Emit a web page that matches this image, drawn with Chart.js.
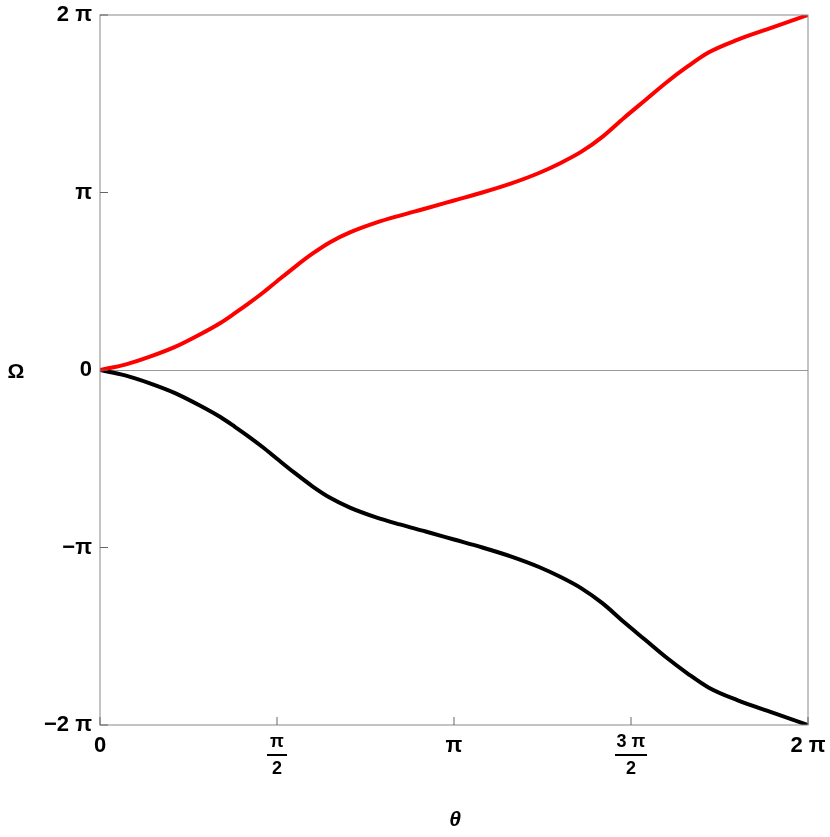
<!DOCTYPE html>
<html><head><meta charset="utf-8">
<script src="https://cdn.jsdelivr.net/npm/chart.js@4/dist/chart.umd.min.js"></script>
<style>body{margin:0;background:#fff}</style></head>
<body><canvas id="c" width="830" height="837"></canvas>
<script>
// theta and Omega in units of pi
const theta = [0,0.071,0.141,0.212,0.282,0.34,0.381,0.42,0.46,0.5,0.55,0.6,0.65,0.706,0.78,0.847,0.92,1.0,1.08,1.16,1.24,1.3,1.36,1.42,1.48,1.54,1.6,1.66,1.72,1.8,1.9,2.0];
const redOmega = [0,0.03,0.075,0.13,0.2,0.265,0.32,0.375,0.435,0.5,0.58,0.655,0.72,0.775,0.83,0.87,0.91,0.955,1.0,1.05,1.11,1.165,1.23,1.315,1.42,1.52,1.62,1.71,1.79,1.86,1.93,2.0];
const blackOmega = redOmega.map(v=>-v);
const xTicks = [0,0.5,1,1.5,2];
const xTickLabels = [["0"],["π","2"],["π"],["3 π","2"],["2 π"]];
const yTicks = [-2,-1,0,1,2];
const yTickLabels = ["−2 π","−π","0","π","2 π"];

const pts = a => theta.map((t,i)=>({x:t,y:a[i]}));
const deco = {
  id:'deco',
  afterDraw(ch){
    const c=ch.ctx, xs=ch.scales.x, ys=ch.scales.y, a=ch.chartArea;
    c.save();
    c.strokeStyle='#888'; c.lineWidth=1;
    c.strokeRect(a.left,a.top,a.right-a.left,a.bottom-a.top);
    c.strokeStyle='#666';
    xTicks.forEach(v=>{const p=xs.getPixelForValue(v);c.beginPath();c.moveTo(p,a.bottom);c.lineTo(p,a.bottom-8);c.stroke();});
    yTicks.forEach(v=>{const p=ys.getPixelForValue(v);c.beginPath();c.moveTo(a.left,p);c.lineTo(a.left+8,p);c.stroke();});
    c.fillStyle='#000'; c.textAlign='center'; c.textBaseline='middle';
    xTicks.forEach((v,i)=>{
      const p=xs.getPixelForValue(v), L=xTickLabels[i];
      if(L.length===1){c.font='bold 22px "Liberation Sans"';c.fillText(L[0],p,a.bottom+21);}
      else{c.font='bold 18px "Liberation Sans"';c.fillText(L[0],p,a.bottom+17);
        c.fillRect(p-(L[0].length>1?16:10),a.bottom+29,L[0].length>1?32:20,2);
        c.fillText(L[1],p,a.bottom+44);}
    });
    yTicks.forEach((v,i)=>{const p=ys.getPixelForValue(v);c.textAlign='right';c.font='bold 22px "Liberation Sans"';c.fillText(yTickLabels[i],a.left-8,p);});
    c.textAlign='center';
    c.font='bold 21px "Liberation Sans"'; c.fillText('Ω',16,372);
    c.font='italic bold 21px "Liberation Sans"'; c.fillText('θ',455,820);
    c.restore();
  }
};
new Chart(document.getElementById('c'),{
  type:'line',
  data:{datasets:[
    {data:pts(redOmega),borderColor:'#ff0000',borderWidth:4,pointRadius:0,cubicInterpolationMode:'monotone'},
    {data:pts(blackOmega),borderColor:'#000',borderWidth:4,pointRadius:0,cubicInterpolationMode:'monotone'}
  ]},
  options:{responsive:false,animation:false,
    layout:{padding:{left:0,top:15,right:22,bottom:0}},
    plugins:{legend:{display:false},tooltip:{enabled:false}},
    scales:{
      x:{type:'linear',min:0,max:2,ticks:{display:false},grid:{display:false},border:{display:false},
        afterFit(s){s.height=112;}},
      y:{min:-2,max:2,ticks:{display:false,stepSize:1},border:{display:false},
        grid:{color:c=>c.tick.value===0?'#999':'transparent',drawTicks:false},
        afterFit(s){s.width=100;}}
    }
  },
  plugins:[deco]
});
</script></body></html>
